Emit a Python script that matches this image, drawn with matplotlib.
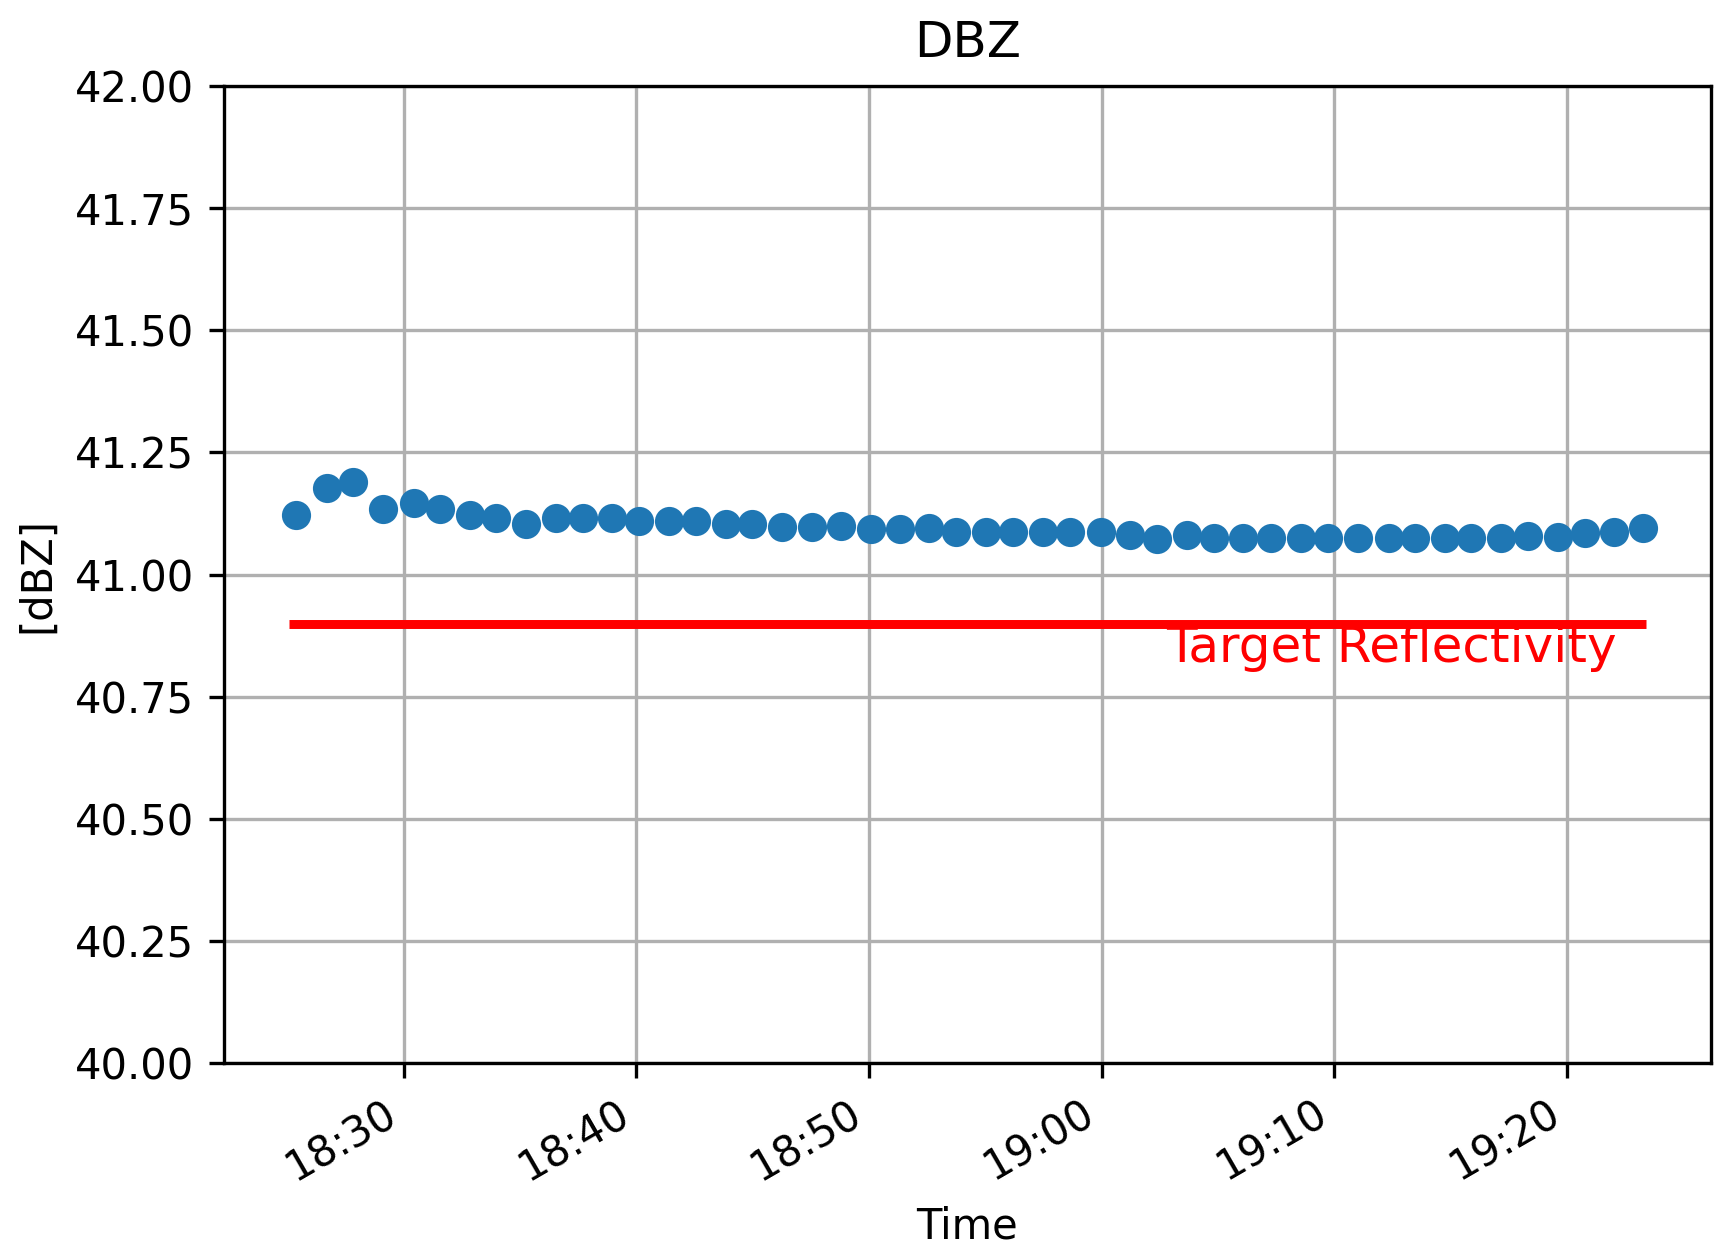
import matplotlib
matplotlib.use("Agg")
import matplotlib.pyplot as plt
import matplotlib.dates as mdates
import pandas as pd

times = [
    "18:25:21", "18:26:41", "18:27:49", "18:29:06", "18:30:25", "18:31:33",
    "18:32:50", "18:33:58", "18:35:16", "18:36:32", "18:37:41", "18:38:57",
    "18:40:06", "18:41:25", "18:42:33", "18:43:52", "18:44:58", "18:46:16",
    "18:47:33", "18:48:47", "18:50:05", "18:51:19", "18:52:35", "18:53:44",
    "18:55:01", "18:56:10", "18:57:29", "18:58:38", "18:59:57", "19:01:13",
    "19:02:22", "19:03:39", "19:04:50", "19:06:05", "19:07:16", "19:08:33",
    "19:09:44", "19:11:01", "19:12:20", "19:13:28", "19:14:45", "19:15:53",
    "19:17:10", "19:18:20", "19:19:36", "19:20:46", "19:22:02", "19:23:15",
]
dbz = [
    41.122, 41.178, 41.189, 41.134, 41.147, 41.134,
    41.122, 41.115, 41.104, 41.115, 41.115, 41.115,
    41.109, 41.109, 41.109, 41.104, 41.104, 41.098,
    41.098, 41.100, 41.094, 41.094, 41.095, 41.088,
    41.088, 41.088, 41.088, 41.088, 41.088, 41.082,
    41.073, 41.081, 41.075, 41.075, 41.075, 41.075,
    41.075, 41.075, 41.075, 41.076, 41.076, 41.076,
    41.074, 41.080, 41.078, 41.085, 41.087, 41.095,
]
target = 40.9
target_start = "18:25:04"
target_end = "19:23:24"
target_label = "Target Reflectivity"
label_time = "19:02:46"
x_range = ["18:22:15", "19:26:11"]
date = "2020-01-01 "

t = pd.to_datetime([date + s for s in times])
t0 = pd.to_datetime(date + target_start)
t1 = pd.to_datetime(date + target_end)
t_label = pd.to_datetime(date + label_time)
xlim = pd.to_datetime([date + s for s in x_range])

W, H, DPI = 1735, 1255, 300
fig = plt.figure(figsize=(W / DPI, H / DPI), dpi=DPI)
ax = fig.add_axes([223.5 / W, 191.7 / H, (1711 - 223.5) / W, (1063.3 - 86) / H])

ax.scatter(t, dbz, color="#1f77b4", zorder=3)
ax.hlines(target, t0, t1, color="red", linewidth=2.15, zorder=2)
ax.text(t_label, target, target_label, color="red", fontsize=12, va="top", ha="left")

ax.set_xlim(xlim[0], xlim[1])
ax.set_ylim(40.0, 42.0)
ax.set_yticks([40.0, 40.25, 40.5, 40.75, 41.0, 41.25, 41.5, 41.75, 42.0])
ax.yaxis.set_major_formatter(matplotlib.ticker.FormatStrFormatter("%.2f"))
ax.xaxis.set_major_locator(mdates.MinuteLocator(byminute=range(0, 60, 10)))
ax.xaxis.set_major_formatter(mdates.DateFormatter("%H:%M"))
for lbl in ax.get_xticklabels():
    lbl.set_rotation(30)
    lbl.set_ha("right")
ax.grid(True)
ax.set_axisbelow(True)
ax.set_title("DBZ", pad=7)
ax.set_xlabel("Time")
ax.set_ylabel("[dBZ]")

fig.savefig("out.png", dpi=DPI)
